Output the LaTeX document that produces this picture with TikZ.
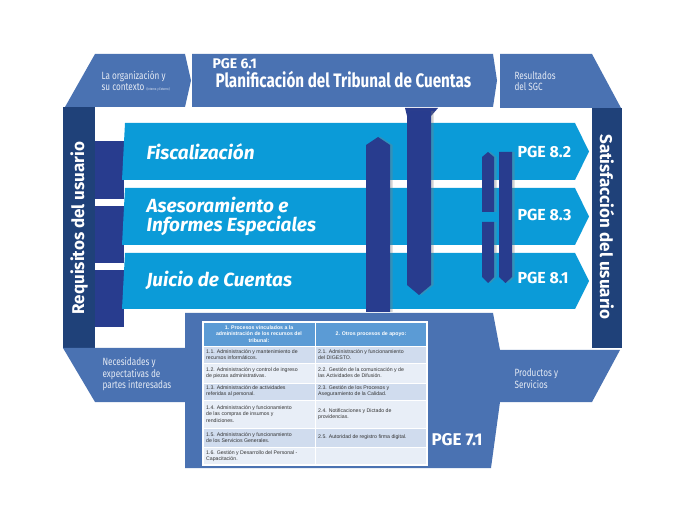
\documentclass[tikz,border=0pt]{standalone}
\usepackage{fontspec}
\setmainfont{Fira Sans}
\newfontfamily\narrowfont{Fira Sans}[FakeStretch=0.78]
\newfontfamily\tabfont{Liberation Sans}
\usetikzlibrary{positioning}
\usetikzlibrary{shadows}
\definecolor{midblue}{HTML}{4A72B2}
\definecolor{navy}{HTML}{1F4179}
\definecolor{skyblue}{HTML}{0B9BD8}
\definecolor{royal}{HTML}{283C8E}
\definecolor{hdrblue}{HTML}{5B9BD5}
\definecolor{rowa}{HTML}{D0DCEE}
\definecolor{rowb}{HTML}{E8EEF7}
\definecolor{softwhite}{HTML}{E4EAF4}

\begin{document}
\begin{tikzpicture}[x=1pt,y=-1pt,
    bartext/.style={text=white,anchor=west,align=left,font=\bfseries\itshape\fontsize{19}{19}\selectfont},
    pgetext/.style={text=white,anchor=west,font=\bfseries\fontsize{16}{16}\selectfont},
    coltext/.style={text=white,font=\bfseries\fontsize{17}{17}\selectfont},
    smalltext/.style={text=softwhite,anchor=west,align=left,font=\narrowfont\fontsize{10.5}{11.5}\selectfont},
    celltext/.style={text=black!80,anchor=west,align=left,inner sep=0pt,font=\tabfont\fontsize{5.2}{6.2}\selectfont},
    headtext/.style={text=white,align=center,inner sep=0pt,font=\tabfont\bfseries\fontsize{5.2}{6.2}\selectfont},
    royalbar/.style={fill=royal,drop shadow={opacity=.35,shadow xshift=2.5pt,shadow yshift=0pt}}]
    \useasboundingbox [fill=white] (0,0) rectangle (683,521);
    % banners
    \fill [midblue] (95,54) -- (185,54) -- (191,80.5) -- (185,107) -- (65,107) -- cycle;
    \fill [midblue] (192,54) -- (493,54) -- (497,80.5) -- (493,107) -- (192,107) -- cycle;
    \fill [midblue] (500,54) -- (592,54) -- (621,108) -- (500,108) -- cycle;
    \fill [navy] (63,107) rectangle (95,348);
    \fill [navy] (592,108) rectangle (622,348);
    \fill [midblue] (63,348) -- (188,348) -- (191,375) -- (188,402) -- (95,402) -- cycle;
    \fill [midblue] (493,350) -- (620,350) -- (592,402) -- (493,402) -- cycle;
    % process bars
    \foreach \t/\b in {141/199, 206/263, 270/327}
        \fill [royal] (95,\t) rectangle (123.5,\b);
    \foreach \t/\b in {123/180, 188/245, 253/309}
        \fill [skyblue] (125,\t) -- (575,\t) -- (589,{(\t+\b)/2}) -- (575,\b) -- (122,\b) -- cycle;
    \fill [midblue] (185,313) -- (493,313) -- (500,350) -- (500,402) -- (491,468) -- (185,468) -- cycle;
    \fill [royalbar] (366,145) -- (378,137) -- (390,145) -- (390,312) -- (366,312) -- cycle;
    \fill [royal] (405,108) -- (438,108) -- (431,116) -- (407,116) -- cycle;
    \fill [royalbar] (407,111) -- (431,111) -- (431,285) -- (419,295) -- (407,285) -- cycle;
    \fill [royalbar] (482,157) -- (488,152) -- (494,157) -- (494,212) -- (482,212) -- cycle;
    \fill [royalbar] (482,222) -- (494,222) -- (494,277) -- (488,283) -- (482,277) -- cycle;
    \fill [royalbar] (499,152) -- (512,152) -- (512,277) -- (505.5,283) -- (499,277) -- cycle;
    % texts
    \node [anchor=base west,text=white,font=\bfseries\fontsize{14}{14}\selectfont] (pge61) at (209,68.5) {PGE 6.1};
    \node [anchor=base west,text=white,font=\narrowfont\bfseries\fontsize{19.5}{19.5}\selectfont] (plan) at (212,88) {Planificación del Tribunal de Cuentas};
    \node [smalltext] (org) at (98,81) {La organización y\\su contexto {\fontsize{3.5}{4}\selectfont(Interno y Externo)}};
    \node [smalltext] (res) at (511,81) {Resultados\\del SGC};
    \node [smalltext] (nec) at (99,374.5) {Necesidades y\\expectativas de\\partes interesadas};
    \node [smalltext] (prod) at (511,378.5) {Productos y\\Servicios};
    \node [coltext,rotate=90] (req) at (79,228) {Requisitos del usuario};
    \node [coltext,rotate=-90] (sat) at (607,227) {Satisfacción del usuario};
    \node [bartext] (fisc) at (143,152) {Fiscalización};
    \node [bartext] (ases) at (143,216) {Asesoramiento e\\Informes Especiales};
    \node [bartext] (juic) at (143,280) {Juicio de Cuentas};
    \node [pgetext] (pge82) at (514,152) {PGE 8.2};
    \node [pgetext] (pge83) at (514,215) {PGE 8.3};
    \node [pgetext] (pge81) at (514,278) {PGE 8.1};
    \node [pgetext,font=\bfseries\fontsize{17}{17}\selectfont] (pge71) at (428,440) {PGE 7.1};
    % table
    \fill [hdrblue] (203,322) rectangle (427,346);
    \node [headtext] (h1) at (259,334) {1. Procesos vinculados a la\\administración de los recursos del\\tribunal:};
    \node [headtext] (h2) at (371,334) {2. Otros procesos de apoyo:};
    \foreach \t/\b/\c/\ta/\tb in {
        346/363/rowa/{1.1. Administración y mantenimiento de\\recursos informáticos.}/{2.1. Administración y funcionamiento\\del DIGESTO.},
        363/383/rowb/{1.2. Administración y control de ingreso\\de piezas administrativas.}/{2.2. Gestión de la comunicación y de\\las Actividades de Difusión.},
        383/400/rowa/{1.3. Administración de actividades\\referidas al personal.}/{2.3. Gestión de los Procesos y\\Aseguramiento de la Calidad.},
        400/428/rowb/{1.4. Administración y funcionamiento\\de las compras de insumos y\\rendiciones.}/{2.4. Notificaciones y Dictado de\\providencias.},
        428/447/rowa/{1.5. Administración y funcionamiento\\de los Servicios Generales.}/{2.5. Autoridad de registro firma digital.},
        447/465/rowb/{1.6. Gestión y Desarrollo del Personal -\\Capacitación.}/{}}{
        \fill [\c] (203,\t) rectangle (427,\b);
        \draw [white,line width=0.8pt] (203,\t) -- (427,\t);
        \node [celltext] (c1-\t) at (206,{(\t+\b)/2}) {\ta};
        \node [celltext] (c2-\t) at (318,{(\t+\b)/2}) {\tb};
    }
    \draw [white,line width=0.8pt] (315,322) -- (315,465);
    \draw [white,line width=1.2pt] (203,322) rectangle (427,465);
\end{tikzpicture}
\end{document}
